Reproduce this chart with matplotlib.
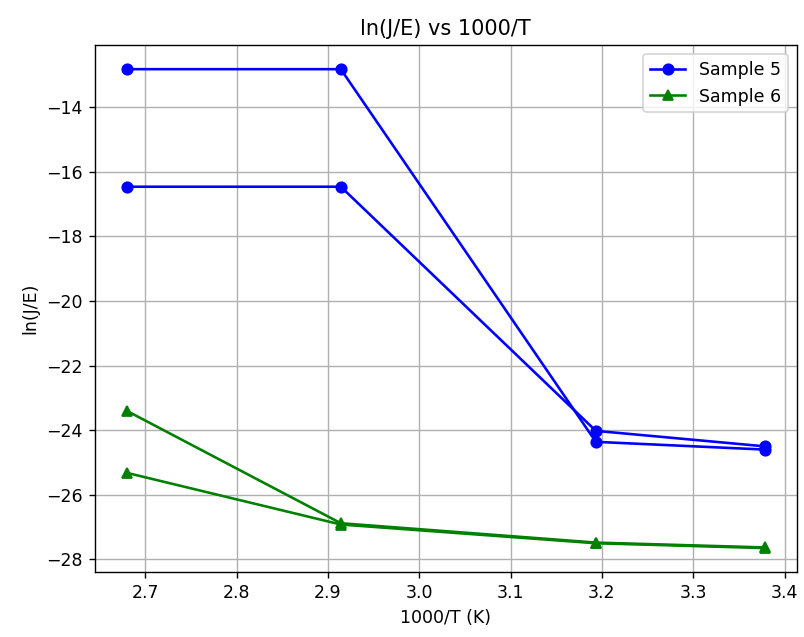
import numpy as np
import matplotlib.pyplot as plt

# temperatures (K) -> 1000/T
T = np.array([373.15, 343.15, 313.15, 296.0])
inv_T = 1000 / T

# Sample 5, two runs
s5_a = [-12.82, -12.82, -24.36, -24.60]
s5_b = [-16.46, -16.46, -24.02, -24.50]

# Sample 6, two runs
s6_a = [-23.40, -26.88, -27.48, -27.63]
s6_b = [-25.32, -26.92, -27.50, -27.65]

fig = plt.figure(figsize=(804 / 125, 637 / 125), dpi=125)
ax = fig.add_axes([0.118, 0.102, 0.873, 0.827])

ax.plot(inv_T, s5_a, marker='o', color='b', label='Sample 5')
ax.plot(inv_T, s5_b, marker='o', color='b')
ax.plot(inv_T, s6_a, marker='^', color='g', label='Sample 6')
ax.plot(inv_T, s6_b, marker='^', color='g')

ax.set_xlabel('1000/T (K)')
ax.set_ylabel('ln(J/E)')
ax.set_title('ln(J/E) vs 1000/T')
ax.legend()
ax.grid(True)

fig.savefig('out.png', dpi=125)
